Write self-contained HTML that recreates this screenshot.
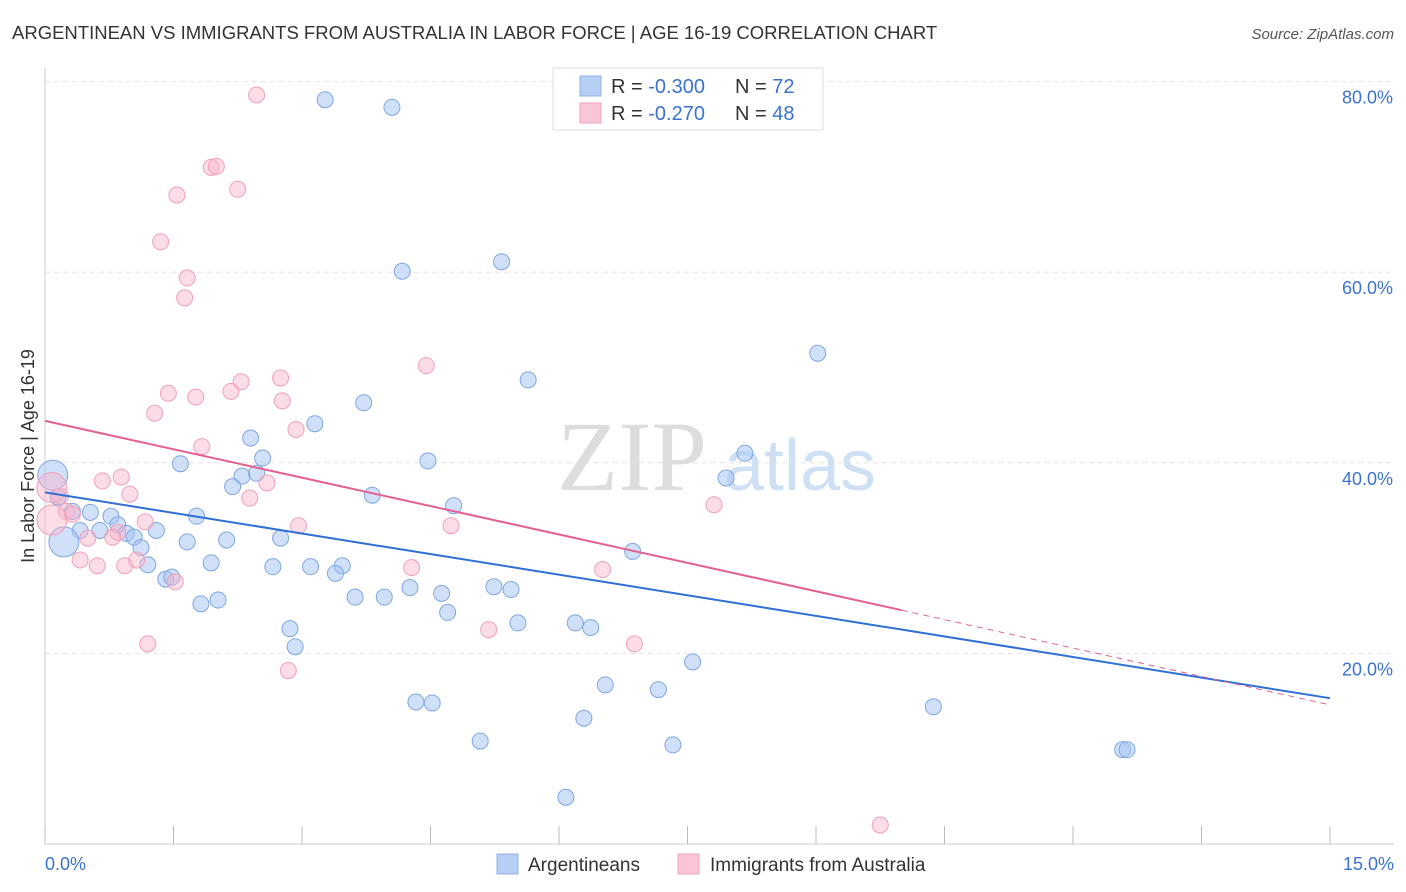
<!DOCTYPE html>
<html><head><meta charset="utf-8"><style>
body{margin:0;background:#fff;font-family:"Liberation Sans",sans-serif;}
svg{display:block}
</style></head><body>
<svg id="chart" width="1406" height="892">
<text x="12" y="39" font-size="18.5" fill="#333">ARGENTINEAN VS IMMIGRANTS FROM AUSTRALIA IN LABOR FORCE | AGE 16-19 CORRELATION CHART</text>
<text x="1394" y="39" font-size="15" fill="#555" font-style="italic" text-anchor="end">Source: ZipAtlas.com</text>
<g id="grid"></g>
<g><text x="632" y="490" font-family="Liberation Serif,serif" font-size="100" fill="#ddd" text-anchor="middle">ZIP</text><text x="800" y="490" font-size="72" fill="#cfe0f5" text-anchor="middle">atlas</text></g>
<g id="marks"></g>
<text transform="translate(34,456) rotate(-90)" font-size="18" fill="#333" text-anchor="middle">In Labor Force | Age 16-19</text>
<text x="45" y="870" font-size="18" fill="#3b73d0">0.0%</text>
<text x="1394" y="870" font-size="18" fill="#3b73d0" text-anchor="end">15.0%</text>
<g>
<rect x="553" y="68" width="270" height="62" fill="#fff" stroke="#ddd"/>
<rect x="580" y="76" width="21" height="20" fill="#b7cff4" stroke="#8fb2e8"/>
<rect x="580" y="103" width="21" height="20" fill="#f9c6d5" stroke="#f0a3ba"/>
<text x="611" y="93" font-size="20" fill="#333">R = <tspan fill="#3b73d0">-0.300</tspan></text>
<text x="735" y="93" font-size="20" fill="#333">N = <tspan fill="#3b73d0">72</tspan></text>
<text x="611" y="120" font-size="20" fill="#333">R = <tspan fill="#3b73d0"> -0.270</tspan></text>
<text x="735" y="120" font-size="20" fill="#333">N = <tspan fill="#3b73d0">48</tspan></text>
</g>
<g>
<rect x="497" y="854" width="21" height="20" fill="#b7cff4" stroke="#8fb2e8"/>
<text x="528" y="871" font-size="19" fill="#333">Argentineans</text>
<rect x="678" y="854" width="21" height="20" fill="#f9c6d5" stroke="#f0a3ba"/>
<text x="710" y="871" font-size="19" fill="#333">Immigrants from Australia</text>
</g>
</svg>
<script>
const yTicks=[20,40,60,80];
const xTicks=[0,1.5,3,4.5,6,7.5,9,10.5,12,13.5,15];
const blueX=[3.27,4.05,4.17,5.33,9.02,5.64,3.72,3.15,2.40,2.54,4.47,1.58,8.17,7.95,2.30,2.19,2.47,3.82,4.77,1.77,0.77,0.53,0.32,0.15,0.09,0.41,0.64,0.85,0.95,1.04,1.12,1.30,0.22,1.66,2.12,2.75,6.86,1.20,1.94,2.66,3.10,3.47,3.39,1.41,1.48,1.82,2.02,3.62,3.96,4.26,4.63,4.70,5.24,5.44,5.52,6.19,6.37,2.86,2.92,7.56,6.54,7.16,4.33,4.52,6.29,10.37,5.08,7.33,12.58,12.63,6.08];
const blueY=[78.1,77.3,60.1,61.1,51.5,48.7,46.3,44.1,42.6,40.5,40.2,39.9,41.0,38.4,38.6,37.5,38.9,36.6,35.5,34.4,34.4,34.8,34.9,36.4,38.7,32.9,32.9,33.5,32.6,32.2,31.1,32.9,31.7,31.7,31.9,32.1,30.7,29.3,29.5,29.1,29.1,29.2,28.4,27.8,28.0,25.2,25.6,25.9,25.9,26.9,26.3,24.3,27.0,26.7,23.2,23.2,22.7,22.6,20.7,19.1,16.7,16.2,14.9,14.8,13.2,14.4,10.8,10.4,9.9,9.9,4.9];
const blueBig=[24,32];
const pinkX=[2.47,1.94,2.00,2.25,1.54,1.35,1.66,1.63,4.45,2.75,2.29,1.44,2.17,1.76,2.77,1.28,2.93,1.83,0.89,0.67,2.59,0.99,2.39,0.18,0.08,0.25,0.32,1.17,2.96,4.74,7.81,0.85,0.50,0.79,0.41,0.61,0.93,1.07,1.52,4.28,6.51,5.18,6.88,1.20,2.84,9.75,0.08];
const pinkY=[78.6,71.0,71.1,68.7,68.1,63.2,59.4,57.3,50.2,48.9,48.5,47.3,47.5,46.9,46.5,45.2,43.5,41.7,38.5,38.1,37.9,36.7,36.3,36.5,37.4,34.9,34.6,33.8,33.4,33.4,35.6,32.7,32.1,32.2,29.8,29.2,29.2,29.8,27.5,29.0,28.8,22.5,21.0,21.0,18.2,2.0,34.0];
const pinkBig=[24,46];
const blueTrend=[36.9,15.3];
const pinkTrend=[44.4,14.6];
const pinkSolidEnd=10.0;
const NS="http://www.w3.org/2000/svg";
const X=v=>45+v*(1285/15);
const Y=v=>844-v*9.53;
const grid=document.getElementById('grid'),marks=document.getElementById('marks');
function mk(p,tag,a){const e=document.createElementNS(NS,tag);for(const k in a)e.setAttribute(k,a[k]);p.appendChild(e);return e;}
yTicks.forEach(t=>{
 const l=mk(grid,'line',{x1:45,x2:1394,y1:Y(t),y2:Y(t),stroke:'#e3e3e3','stroke-dasharray':'5,4'});
 
 
 const tx=mk(grid,'text',{x:1393,y:Y(t)+22,'font-size':18,fill:'#3b73d0','text-anchor':'end'});tx.textContent=t.toFixed(1)+'%';
 
 
});
const ax=mk(grid,'line',{x1:45,x2:45,y1:68,y2:844,stroke:'#ccc'});


const xa=mk(grid,'line',{x1:45,x2:1394,y1:844,y2:844,stroke:'#ccc'});


xTicks.forEach(t=>{const l=mk(grid,'line',{x1:X(t),x2:X(t),y1:826,y2:844,stroke:'#bbb'});
 
 });
function pts(xs,ys,big,fill,stroke,name){xs.forEach((v,i)=>{
 const c=mk(marks,'circle',{cx:X(v),cy:Y(ys[i]),r:big.includes(i)?15:8,fill:fill,stroke:stroke,'stroke-width':1});
 
 });}
pts(blueX,blueY,blueBig,'rgba(164,194,244,0.5)','#7fa6e2','argentinean-point');
pts(pinkX,pinkY,pinkBig,'rgba(248,180,200,0.45)','#f0a0b8','immigrant-point');
const bt=mk(marks,'line',{x1:X(0),y1:Y(blueTrend[0]),x2:X(15),y2:Y(blueTrend[1]),stroke:'#2f6fd6','stroke-width':2});


const pm=v=>pinkTrend[0]+(pinkTrend[1]-pinkTrend[0])*v/15;
const pt=mk(marks,'line',{x1:X(0),y1:Y(pinkTrend[0]),x2:X(pinkSolidEnd),y2:Y(pm(pinkSolidEnd)),stroke:'#e5608e','stroke-width':2});


const pd=mk(marks,'line',{x1:X(pinkSolidEnd),y1:Y(pm(pinkSolidEnd)),x2:X(15),y2:Y(pinkTrend[1]),stroke:'#e5608e','stroke-width':1,'stroke-dasharray':'6,5'});


</script>
</body></html>
